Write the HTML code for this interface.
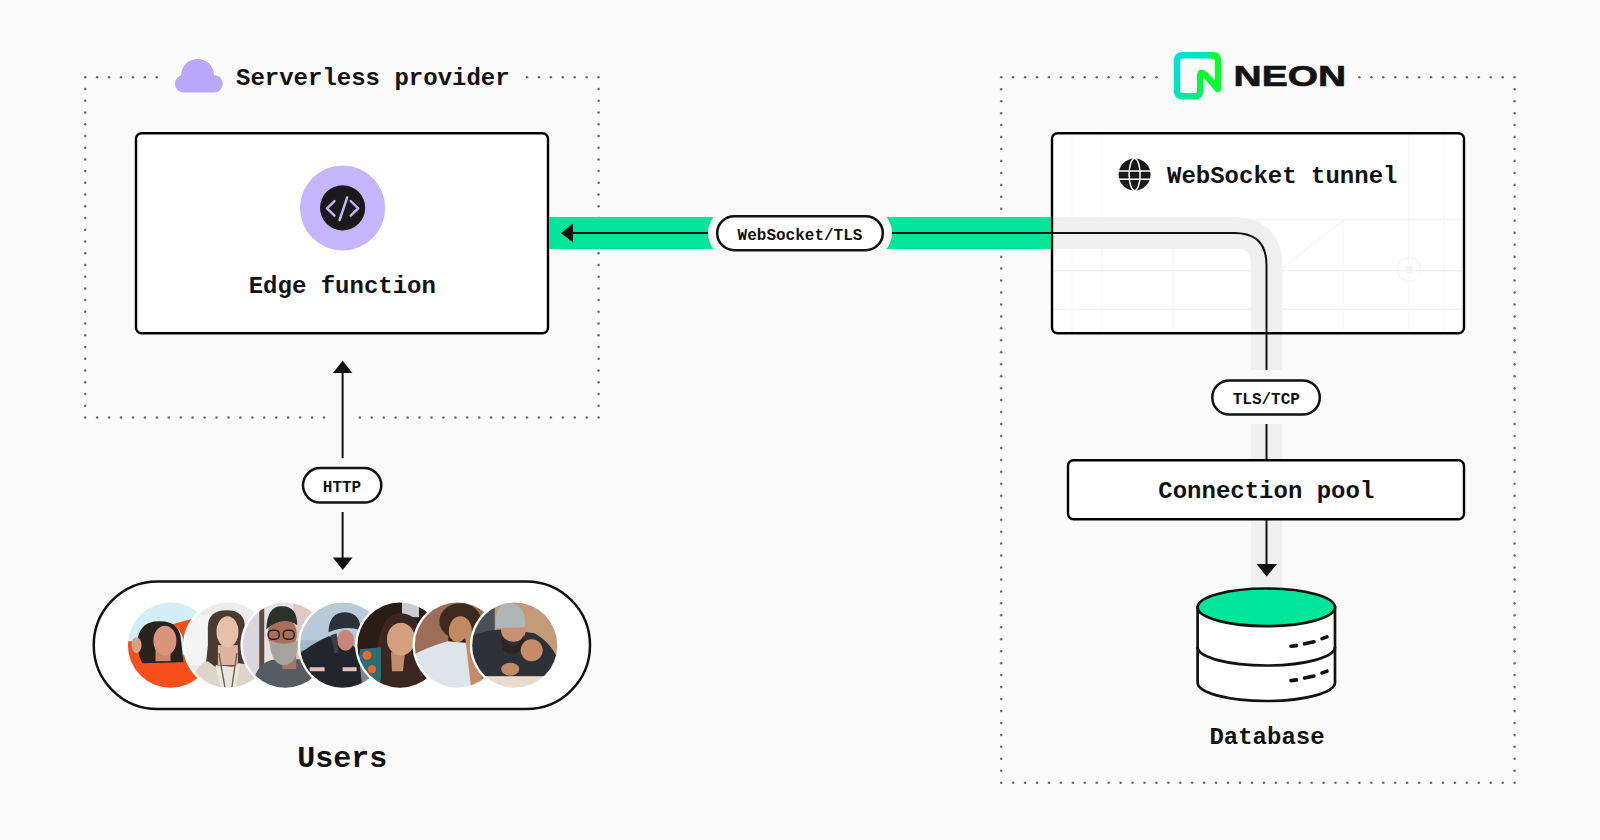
<!DOCTYPE html>
<html><head><meta charset="utf-8"><style>
html,body{margin:0;padding:0;background:#fafafa;overflow:hidden;}
svg{display:block;}
text{font-family:"Liberation Mono",monospace;font-weight:bold;fill:#121212;}
</style></head><body>
<svg width="1600" height="840" viewBox="0 0 1600 840">
<rect width="1600" height="840" fill="#fafafa"/>
<g fill="#6b6b6b"><circle cx="85.20" cy="77.30" r="1.25"/><circle cx="85.20" cy="417.40" r="1.25"/><circle cx="97.14" cy="77.30" r="1.25"/><circle cx="97.14" cy="417.40" r="1.25"/><circle cx="109.08" cy="77.30" r="1.25"/><circle cx="109.08" cy="417.40" r="1.25"/><circle cx="121.02" cy="77.30" r="1.25"/><circle cx="121.02" cy="417.40" r="1.25"/><circle cx="132.96" cy="77.30" r="1.25"/><circle cx="132.96" cy="417.40" r="1.25"/><circle cx="144.90" cy="77.30" r="1.25"/><circle cx="144.90" cy="417.40" r="1.25"/><circle cx="156.84" cy="77.30" r="1.25"/><circle cx="156.84" cy="417.40" r="1.25"/><circle cx="168.78" cy="417.40" r="1.25"/><circle cx="180.72" cy="417.40" r="1.25"/><circle cx="192.66" cy="417.40" r="1.25"/><circle cx="204.60" cy="417.40" r="1.25"/><circle cx="216.53" cy="417.40" r="1.25"/><circle cx="228.47" cy="417.40" r="1.25"/><circle cx="240.41" cy="417.40" r="1.25"/><circle cx="252.35" cy="417.40" r="1.25"/><circle cx="264.29" cy="417.40" r="1.25"/><circle cx="276.23" cy="417.40" r="1.25"/><circle cx="288.17" cy="417.40" r="1.25"/><circle cx="300.11" cy="417.40" r="1.25"/><circle cx="312.05" cy="417.40" r="1.25"/><circle cx="323.99" cy="417.40" r="1.25"/><circle cx="359.81" cy="417.40" r="1.25"/><circle cx="371.75" cy="417.40" r="1.25"/><circle cx="383.69" cy="417.40" r="1.25"/><circle cx="395.63" cy="417.40" r="1.25"/><circle cx="407.57" cy="417.40" r="1.25"/><circle cx="419.51" cy="417.40" r="1.25"/><circle cx="431.45" cy="417.40" r="1.25"/><circle cx="443.39" cy="417.40" r="1.25"/><circle cx="455.33" cy="417.40" r="1.25"/><circle cx="467.27" cy="417.40" r="1.25"/><circle cx="479.20" cy="417.40" r="1.25"/><circle cx="491.14" cy="417.40" r="1.25"/><circle cx="503.08" cy="417.40" r="1.25"/><circle cx="515.02" cy="417.40" r="1.25"/><circle cx="526.96" cy="77.30" r="1.25"/><circle cx="526.96" cy="417.40" r="1.25"/><circle cx="538.90" cy="77.30" r="1.25"/><circle cx="538.90" cy="417.40" r="1.25"/><circle cx="550.84" cy="77.30" r="1.25"/><circle cx="550.84" cy="417.40" r="1.25"/><circle cx="562.78" cy="77.30" r="1.25"/><circle cx="562.78" cy="417.40" r="1.25"/><circle cx="574.72" cy="77.30" r="1.25"/><circle cx="574.72" cy="417.40" r="1.25"/><circle cx="586.66" cy="77.30" r="1.25"/><circle cx="586.66" cy="417.40" r="1.25"/><circle cx="598.60" cy="77.30" r="1.25"/><circle cx="598.60" cy="417.40" r="1.25"/><circle cx="85.20" cy="89.03" r="1.25"/><circle cx="598.60" cy="89.03" r="1.25"/><circle cx="85.20" cy="100.76" r="1.25"/><circle cx="598.60" cy="100.76" r="1.25"/><circle cx="85.20" cy="112.48" r="1.25"/><circle cx="598.60" cy="112.48" r="1.25"/><circle cx="85.20" cy="124.21" r="1.25"/><circle cx="598.60" cy="124.21" r="1.25"/><circle cx="85.20" cy="135.94" r="1.25"/><circle cx="598.60" cy="135.94" r="1.25"/><circle cx="85.20" cy="147.67" r="1.25"/><circle cx="598.60" cy="147.67" r="1.25"/><circle cx="85.20" cy="159.39" r="1.25"/><circle cx="598.60" cy="159.39" r="1.25"/><circle cx="85.20" cy="171.12" r="1.25"/><circle cx="598.60" cy="171.12" r="1.25"/><circle cx="85.20" cy="182.85" r="1.25"/><circle cx="598.60" cy="182.85" r="1.25"/><circle cx="85.20" cy="194.58" r="1.25"/><circle cx="598.60" cy="194.58" r="1.25"/><circle cx="85.20" cy="206.30" r="1.25"/><circle cx="598.60" cy="206.30" r="1.25"/><circle cx="85.20" cy="218.03" r="1.25"/><circle cx="598.60" cy="218.03" r="1.25"/><circle cx="85.20" cy="229.76" r="1.25"/><circle cx="598.60" cy="229.76" r="1.25"/><circle cx="85.20" cy="241.49" r="1.25"/><circle cx="598.60" cy="241.49" r="1.25"/><circle cx="85.20" cy="253.21" r="1.25"/><circle cx="598.60" cy="253.21" r="1.25"/><circle cx="85.20" cy="264.94" r="1.25"/><circle cx="598.60" cy="264.94" r="1.25"/><circle cx="85.20" cy="276.67" r="1.25"/><circle cx="598.60" cy="276.67" r="1.25"/><circle cx="85.20" cy="288.40" r="1.25"/><circle cx="598.60" cy="288.40" r="1.25"/><circle cx="85.20" cy="300.12" r="1.25"/><circle cx="598.60" cy="300.12" r="1.25"/><circle cx="85.20" cy="311.85" r="1.25"/><circle cx="598.60" cy="311.85" r="1.25"/><circle cx="85.20" cy="323.58" r="1.25"/><circle cx="598.60" cy="323.58" r="1.25"/><circle cx="85.20" cy="335.31" r="1.25"/><circle cx="598.60" cy="335.31" r="1.25"/><circle cx="85.20" cy="347.03" r="1.25"/><circle cx="598.60" cy="347.03" r="1.25"/><circle cx="85.20" cy="358.76" r="1.25"/><circle cx="598.60" cy="358.76" r="1.25"/><circle cx="85.20" cy="370.49" r="1.25"/><circle cx="598.60" cy="370.49" r="1.25"/><circle cx="85.20" cy="382.22" r="1.25"/><circle cx="598.60" cy="382.22" r="1.25"/><circle cx="85.20" cy="393.94" r="1.25"/><circle cx="598.60" cy="393.94" r="1.25"/><circle cx="85.20" cy="405.67" r="1.25"/><circle cx="598.60" cy="405.67" r="1.25"/><circle cx="1001.20" cy="77.30" r="1.25"/><circle cx="1001.20" cy="782.70" r="1.25"/><circle cx="1013.14" cy="77.30" r="1.25"/><circle cx="1013.14" cy="782.70" r="1.25"/><circle cx="1025.08" cy="77.30" r="1.25"/><circle cx="1025.08" cy="782.70" r="1.25"/><circle cx="1037.02" cy="77.30" r="1.25"/><circle cx="1037.02" cy="782.70" r="1.25"/><circle cx="1048.96" cy="77.30" r="1.25"/><circle cx="1048.96" cy="782.70" r="1.25"/><circle cx="1060.90" cy="77.30" r="1.25"/><circle cx="1060.90" cy="782.70" r="1.25"/><circle cx="1072.84" cy="77.30" r="1.25"/><circle cx="1072.84" cy="782.70" r="1.25"/><circle cx="1084.78" cy="77.30" r="1.25"/><circle cx="1084.78" cy="782.70" r="1.25"/><circle cx="1096.72" cy="77.30" r="1.25"/><circle cx="1096.72" cy="782.70" r="1.25"/><circle cx="1108.66" cy="77.30" r="1.25"/><circle cx="1108.66" cy="782.70" r="1.25"/><circle cx="1120.60" cy="77.30" r="1.25"/><circle cx="1120.60" cy="782.70" r="1.25"/><circle cx="1132.53" cy="77.30" r="1.25"/><circle cx="1132.53" cy="782.70" r="1.25"/><circle cx="1144.47" cy="77.30" r="1.25"/><circle cx="1144.47" cy="782.70" r="1.25"/><circle cx="1156.41" cy="77.30" r="1.25"/><circle cx="1156.41" cy="782.70" r="1.25"/><circle cx="1168.35" cy="782.70" r="1.25"/><circle cx="1180.29" cy="782.70" r="1.25"/><circle cx="1192.23" cy="782.70" r="1.25"/><circle cx="1204.17" cy="782.70" r="1.25"/><circle cx="1216.11" cy="782.70" r="1.25"/><circle cx="1228.05" cy="782.70" r="1.25"/><circle cx="1239.99" cy="782.70" r="1.25"/><circle cx="1251.93" cy="782.70" r="1.25"/><circle cx="1263.87" cy="782.70" r="1.25"/><circle cx="1275.81" cy="782.70" r="1.25"/><circle cx="1287.75" cy="782.70" r="1.25"/><circle cx="1299.69" cy="782.70" r="1.25"/><circle cx="1311.63" cy="782.70" r="1.25"/><circle cx="1323.57" cy="782.70" r="1.25"/><circle cx="1335.51" cy="782.70" r="1.25"/><circle cx="1347.45" cy="782.70" r="1.25"/><circle cx="1359.39" cy="77.30" r="1.25"/><circle cx="1359.39" cy="782.70" r="1.25"/><circle cx="1371.33" cy="77.30" r="1.25"/><circle cx="1371.33" cy="782.70" r="1.25"/><circle cx="1383.27" cy="77.30" r="1.25"/><circle cx="1383.27" cy="782.70" r="1.25"/><circle cx="1395.20" cy="77.30" r="1.25"/><circle cx="1395.20" cy="782.70" r="1.25"/><circle cx="1407.14" cy="77.30" r="1.25"/><circle cx="1407.14" cy="782.70" r="1.25"/><circle cx="1419.08" cy="77.30" r="1.25"/><circle cx="1419.08" cy="782.70" r="1.25"/><circle cx="1431.02" cy="77.30" r="1.25"/><circle cx="1431.02" cy="782.70" r="1.25"/><circle cx="1442.96" cy="77.30" r="1.25"/><circle cx="1442.96" cy="782.70" r="1.25"/><circle cx="1454.90" cy="77.30" r="1.25"/><circle cx="1454.90" cy="782.70" r="1.25"/><circle cx="1466.84" cy="77.30" r="1.25"/><circle cx="1466.84" cy="782.70" r="1.25"/><circle cx="1478.78" cy="77.30" r="1.25"/><circle cx="1478.78" cy="782.70" r="1.25"/><circle cx="1490.72" cy="77.30" r="1.25"/><circle cx="1490.72" cy="782.70" r="1.25"/><circle cx="1502.66" cy="77.30" r="1.25"/><circle cx="1502.66" cy="782.70" r="1.25"/><circle cx="1514.60" cy="77.30" r="1.25"/><circle cx="1514.60" cy="782.70" r="1.25"/><circle cx="1001.20" cy="89.26" r="1.25"/><circle cx="1514.60" cy="89.26" r="1.25"/><circle cx="1001.20" cy="101.21" r="1.25"/><circle cx="1514.60" cy="101.21" r="1.25"/><circle cx="1001.20" cy="113.17" r="1.25"/><circle cx="1514.60" cy="113.17" r="1.25"/><circle cx="1001.20" cy="125.12" r="1.25"/><circle cx="1514.60" cy="125.12" r="1.25"/><circle cx="1001.20" cy="137.08" r="1.25"/><circle cx="1514.60" cy="137.08" r="1.25"/><circle cx="1001.20" cy="149.04" r="1.25"/><circle cx="1514.60" cy="149.04" r="1.25"/><circle cx="1001.20" cy="160.99" r="1.25"/><circle cx="1514.60" cy="160.99" r="1.25"/><circle cx="1001.20" cy="172.95" r="1.25"/><circle cx="1514.60" cy="172.95" r="1.25"/><circle cx="1001.20" cy="184.90" r="1.25"/><circle cx="1514.60" cy="184.90" r="1.25"/><circle cx="1001.20" cy="196.86" r="1.25"/><circle cx="1514.60" cy="196.86" r="1.25"/><circle cx="1001.20" cy="208.82" r="1.25"/><circle cx="1514.60" cy="208.82" r="1.25"/><circle cx="1001.20" cy="220.77" r="1.25"/><circle cx="1514.60" cy="220.77" r="1.25"/><circle cx="1001.20" cy="232.73" r="1.25"/><circle cx="1514.60" cy="232.73" r="1.25"/><circle cx="1001.20" cy="244.68" r="1.25"/><circle cx="1514.60" cy="244.68" r="1.25"/><circle cx="1001.20" cy="256.64" r="1.25"/><circle cx="1514.60" cy="256.64" r="1.25"/><circle cx="1001.20" cy="268.59" r="1.25"/><circle cx="1514.60" cy="268.59" r="1.25"/><circle cx="1001.20" cy="280.55" r="1.25"/><circle cx="1514.60" cy="280.55" r="1.25"/><circle cx="1001.20" cy="292.51" r="1.25"/><circle cx="1514.60" cy="292.51" r="1.25"/><circle cx="1001.20" cy="304.46" r="1.25"/><circle cx="1514.60" cy="304.46" r="1.25"/><circle cx="1001.20" cy="316.42" r="1.25"/><circle cx="1514.60" cy="316.42" r="1.25"/><circle cx="1001.20" cy="328.37" r="1.25"/><circle cx="1514.60" cy="328.37" r="1.25"/><circle cx="1001.20" cy="340.33" r="1.25"/><circle cx="1514.60" cy="340.33" r="1.25"/><circle cx="1001.20" cy="352.29" r="1.25"/><circle cx="1514.60" cy="352.29" r="1.25"/><circle cx="1001.20" cy="364.24" r="1.25"/><circle cx="1514.60" cy="364.24" r="1.25"/><circle cx="1001.20" cy="376.20" r="1.25"/><circle cx="1514.60" cy="376.20" r="1.25"/><circle cx="1001.20" cy="388.15" r="1.25"/><circle cx="1514.60" cy="388.15" r="1.25"/><circle cx="1001.20" cy="400.11" r="1.25"/><circle cx="1514.60" cy="400.11" r="1.25"/><circle cx="1001.20" cy="412.07" r="1.25"/><circle cx="1514.60" cy="412.07" r="1.25"/><circle cx="1001.20" cy="424.02" r="1.25"/><circle cx="1514.60" cy="424.02" r="1.25"/><circle cx="1001.20" cy="435.98" r="1.25"/><circle cx="1514.60" cy="435.98" r="1.25"/><circle cx="1001.20" cy="447.93" r="1.25"/><circle cx="1514.60" cy="447.93" r="1.25"/><circle cx="1001.20" cy="459.89" r="1.25"/><circle cx="1514.60" cy="459.89" r="1.25"/><circle cx="1001.20" cy="471.85" r="1.25"/><circle cx="1514.60" cy="471.85" r="1.25"/><circle cx="1001.20" cy="483.80" r="1.25"/><circle cx="1514.60" cy="483.80" r="1.25"/><circle cx="1001.20" cy="495.76" r="1.25"/><circle cx="1514.60" cy="495.76" r="1.25"/><circle cx="1001.20" cy="507.71" r="1.25"/><circle cx="1514.60" cy="507.71" r="1.25"/><circle cx="1001.20" cy="519.67" r="1.25"/><circle cx="1514.60" cy="519.67" r="1.25"/><circle cx="1001.20" cy="531.63" r="1.25"/><circle cx="1514.60" cy="531.63" r="1.25"/><circle cx="1001.20" cy="543.58" r="1.25"/><circle cx="1514.60" cy="543.58" r="1.25"/><circle cx="1001.20" cy="555.54" r="1.25"/><circle cx="1514.60" cy="555.54" r="1.25"/><circle cx="1001.20" cy="567.49" r="1.25"/><circle cx="1514.60" cy="567.49" r="1.25"/><circle cx="1001.20" cy="579.45" r="1.25"/><circle cx="1514.60" cy="579.45" r="1.25"/><circle cx="1001.20" cy="591.41" r="1.25"/><circle cx="1514.60" cy="591.41" r="1.25"/><circle cx="1001.20" cy="603.36" r="1.25"/><circle cx="1514.60" cy="603.36" r="1.25"/><circle cx="1001.20" cy="615.32" r="1.25"/><circle cx="1514.60" cy="615.32" r="1.25"/><circle cx="1001.20" cy="627.27" r="1.25"/><circle cx="1514.60" cy="627.27" r="1.25"/><circle cx="1001.20" cy="639.23" r="1.25"/><circle cx="1514.60" cy="639.23" r="1.25"/><circle cx="1001.20" cy="651.18" r="1.25"/><circle cx="1514.60" cy="651.18" r="1.25"/><circle cx="1001.20" cy="663.14" r="1.25"/><circle cx="1514.60" cy="663.14" r="1.25"/><circle cx="1001.20" cy="675.10" r="1.25"/><circle cx="1514.60" cy="675.10" r="1.25"/><circle cx="1001.20" cy="687.05" r="1.25"/><circle cx="1514.60" cy="687.05" r="1.25"/><circle cx="1001.20" cy="699.01" r="1.25"/><circle cx="1514.60" cy="699.01" r="1.25"/><circle cx="1001.20" cy="710.96" r="1.25"/><circle cx="1514.60" cy="710.96" r="1.25"/><circle cx="1001.20" cy="722.92" r="1.25"/><circle cx="1514.60" cy="722.92" r="1.25"/><circle cx="1001.20" cy="734.88" r="1.25"/><circle cx="1514.60" cy="734.88" r="1.25"/><circle cx="1001.20" cy="746.83" r="1.25"/><circle cx="1514.60" cy="746.83" r="1.25"/><circle cx="1001.20" cy="758.79" r="1.25"/><circle cx="1514.60" cy="758.79" r="1.25"/><circle cx="1001.20" cy="770.74" r="1.25"/><circle cx="1514.60" cy="770.74" r="1.25"/></g>

<!-- cloud -->
<g fill="#b9a8fe">
<circle cx="197.5" cy="75.5" r="16.5"/>
<rect x="174.8" y="75" width="48" height="17.5" rx="8.75"/>
</g>
<text x="236" y="85.3" font-size="24">Serverless provider</text>

<!-- NEON logo -->
<defs>
<filter id="soft" x="-10%" y="-10%" width="120%" height="120%"><feGaussianBlur stdDeviation="0.7"/></filter>
<linearGradient id="ng" x1="1175" y1="55" x2="1215" y2="95" gradientUnits="userSpaceOnUse">
<stop offset="0" stop-color="#00e2d8"/><stop offset="0.5" stop-color="#00e6b4"/><stop offset="0.85" stop-color="#00ef70"/><stop offset="1" stop-color="#00f558"/>
</linearGradient>
<linearGradient id="ng2" x1="1200" y1="90" x2="1218" y2="55" gradientUnits="userSpaceOnUse">
<stop offset="0" stop-color="#00f558"/><stop offset="0.4" stop-color="#0aff2a"/><stop offset="1" stop-color="#0aff2a"/>
</linearGradient>
</defs>
<path d="M1213 55.3 L1182.7 55.3 Q1177 55.3 1177 61 L1177 90.5 Q1177 96.3 1182.7 96.3 L1194.5 96.3 Q1200.2 96.3 1200.2 90.5" fill="none" stroke="url(#ng)" stroke-width="6.4" stroke-linecap="round" stroke-linejoin="round"/>
<path d="M1200.2 90.5 L1200.2 76 Q1200.2 70 1205 74.5 L1218 89 L1218 61 Q1218 55.3 1213 55.3" fill="none" stroke="url(#ng2)" stroke-width="6.4" stroke-linecap="round" stroke-linejoin="round"/>
<text x="1233.6" y="86.2" font-size="29.5" style="font-family:'Liberation Sans',sans-serif;font-weight:bold" textLength="112.5" lengthAdjust="spacingAndGlyphs" stroke="#1a1a1a" stroke-width="0.7">NEON</text>

<!-- left box -->
<rect x="136" y="133.2" width="412" height="200" rx="5.5" fill="#fff" stroke="#000" stroke-width="2.4"/>
<circle cx="342.6" cy="208" r="42.6" fill="#c4b5fd"/>
<circle cx="342.6" cy="207.8" r="22.6" fill="#1a1a1a"/>
<g stroke="#c4b5fd" stroke-width="2.4" stroke-linecap="round" fill="none" stroke-linejoin="round">
<path d="M334.5 201 L327 208.3 L334.5 215.6"/>
<path d="M350.7 201 L358.2 208.3 L350.7 215.6"/>
<path d="M347.2 197.5 L339.6 220"/>
</g>
<text x="342.3" y="293.4" font-size="24" text-anchor="middle">Edge function</text>

<!-- right websocket box -->
<rect x="1052" y="133" width="412" height="200" rx="5.5" fill="#fff"/>
<g stroke="#f8f8f8" stroke-width="1.5" fill="none"><line x1="1072" y1="134" x2="1072" y2="332"/><line x1="1101.5" y1="134" x2="1101.5" y2="332"/><line x1="1172.7" y1="249" x2="1172.7" y2="332"/><line x1="1343.4" y1="219.6" x2="1343.4" y2="332"/><line x1="1408.5" y1="134" x2="1408.5" y2="332"/><line x1="1444.2" y1="134" x2="1444.2" y2="332"/></g><g stroke="#f3f3f3" stroke-width="1.6" fill="none"><line x1="1053" y1="219.7" x2="1463" y2="219.7"/><line x1="1053" y1="270.8" x2="1463" y2="270.8"/><line x1="1053" y1="309.2" x2="1463" y2="309.2"/></g><g stroke="#f5f5f5" stroke-width="1.3" fill="none"><line x1="1283" y1="267.5" x2="1343" y2="220.4"/><circle cx="1409" cy="269.4" r="12"/></g><circle cx="1409" cy="269.4" r="4" fill="#f3f3f3"/>
<!-- tunnel gray path -->
<path d="M1050 233 L1234.5 233 Q1266.5 233 1266.5 265 L1266.5 588" fill="none" stroke="#f0f0f0" stroke-width="31.5"/>
<rect x="1052" y="133.2" width="412" height="200" rx="5.5" fill="none" stroke="#000" stroke-width="2.4"/>
<circle cx="1134.6" cy="174.5" r="16" fill="#1a1a1a"/>
<g stroke="#fff" stroke-width="1.5" fill="none">
<line x1="1118" y1="171" x2="1151" y2="171"/>
<line x1="1118" y1="179.2" x2="1151" y2="179.2"/>
<ellipse cx="1134.6" cy="174.5" rx="5.5" ry="16"/>
</g>
<text x="1167" y="182.5" font-size="24">WebSocket tunnel</text>


<!-- green band -->
<rect x="549" y="217" width="502" height="32" fill="#00e599"/>
<!-- line -->
<path d="M570 233 L1234.5 233 Q1266.5 233 1266.5 265 L1266.5 566" fill="none" stroke="#121212" stroke-width="2"/>
<path d="M561 233 L573 223.5 L573 242.5Z" fill="#121212"/>

<!-- websocket pill -->
<rect x="708" y="207" width="184" height="52" rx="26" fill="#fafafa"/>
<rect x="717.2" y="216.2" width="165.6" height="34" rx="17" fill="#fff" stroke="#121212" stroke-width="2.5"/>
<text x="800" y="239.8" font-size="16" text-anchor="middle">WebSocket/TLS</text>

<!-- TLS/TCP pill -->
<rect x="1203" y="370" width="126" height="54" rx="27" fill="#fafafa"/>
<rect x="1212.3" y="380.4" width="107.5" height="34.2" rx="17.1" fill="#fff" stroke="#121212" stroke-width="2.5"/>
<text x="1266.3" y="403.8" font-size="16" text-anchor="middle">TLS/TCP</text>

<!-- connection pool -->
<rect x="1068" y="460.2" width="396" height="59" rx="5.5" fill="#fff" stroke="#000" stroke-width="2.4"/>
<text x="1266.3" y="498" font-size="24" text-anchor="middle">Connection pool</text>
<path d="M1256.5 564 L1277 564 L1266.7 576.5Z" fill="#121212"/>

<!-- database -->
<g stroke="#121212" stroke-width="2.7" fill="#fff">
<path d="M1197.6 607.3 L1197.6 682.5 A68.7 18.5 0 0 0 1335 682.5 L1335 607.3Z"/>
<path d="M1197.6 647 A68.7 18.5 0 0 0 1335 647" fill="none"/>
<ellipse cx="1266.3" cy="607.3" rx="68.7" ry="18.8" fill="#00e599"/>
</g>
<g stroke="#121212" stroke-width="3.6" stroke-linecap="round" fill="none">
<path d="M1291 646.3 L1296.5 645.6 M1304.5 643.8 L1314 641.8 M1322 638.6 L1327 636.9"/>
<path d="M1291 680.6 L1296.5 679.9 M1304.5 678.1 L1314 676.1 M1322 672.9 L1327 671.2"/>
</g>
<text x="1267" y="744" font-size="24" text-anchor="middle">Database</text>

<!-- HTTP arrows -->
<line x1="342.6" y1="372" x2="342.6" y2="458.2" stroke="#121212" stroke-width="2"/>
<line x1="342.6" y1="512" x2="342.6" y2="559" stroke="#121212" stroke-width="2"/>
<path d="M332.9 373 L352.4 373 L342.6 360.7Z" fill="#121212"/>
<path d="M332.9 557.5 L352.5 557.5 L342.7 570Z" fill="#121212"/>
<rect x="303" y="468.1" width="78.3" height="34.5" rx="17.25" fill="#fff" stroke="#121212" stroke-width="2.5"/>
<text x="342" y="492.1" font-size="16" text-anchor="middle">HTTP</text>

<!-- users -->
<rect x="93.75" y="581.45" width="496.25" height="127.5" rx="63.75" fill="#fff" stroke="#111" stroke-width="2.5"/>
<clipPath id="pc0"><circle cx="0" cy="0" r="42.6"/></clipPath><g clip-path="url(#pc0)" transform="translate(170.50,645.2)"><g filter="url(#soft)"><rect x="-45" y="-45" width="90" height="90" fill="#d4eef6"/><path d="M-45 -4 L-29 -4 L-27 14 L-14 16 L2 15 L12 12 L17 -1 L13 -3 Q12 -15 2 -21 L20 -26 Q32 -28 45 -30 L45 45 L-45 45Z" fill="#f5501c"/><path d="M-33 -6 Q-30 -24 -12 -24 Q6 -25 10 -10 L13 17 L-28 18 Q-34 8 -33 -6Z" fill="#2a201e"/><ellipse cx="-34" cy="0" rx="5" ry="8" fill="#d4a08a"/><rect x="-15" y="3" width="15" height="13" fill="#c98670"/><ellipse cx="-5.6" cy="-4.5" rx="11.5" ry="15" fill="#d8957c"/></g></g><clipPath id="pc1"><circle cx="0" cy="0" r="42.6"/></clipPath><circle cx="227.87" cy="645.2" r="44.800000000000004" fill="#fff"/><g clip-path="url(#pc1)" transform="translate(227.87,645.2)"><g filter="url(#soft)"><rect x="-45" y="-45" width="90" height="90" fill="#ebebeb"/><rect x="-42" y="-30" width="26" height="50" fill="#f4f4f4"/><path d="M-20 -18 Q-20 -35 -1 -35 Q17 -35 17 -18 L17 20 L10 22 L-12 20 L-16 36 L-24 38 Q-22 20 -20 0Z" fill="#4a3a30"/><rect x="-10" y="0" width="20" height="20" fill="#dcb69c"/><ellipse cx="-0.4" cy="-13.5" rx="11" ry="15.5" fill="#e6c0a8"/><path d="M-36 45 Q-34 18 -20 16 L-12 22 L-6 45Z M10 18 Q30 18 38 45 L6 45Z" fill="#ddd5c8"/><path d="M-12 20 L-5 45 L8 45 L12 18 Q0 26 -12 20Z" fill="#e9e4dc"/><path d="M-9 8 L-3 42 M9 8 L4 42" stroke="#6a5a50" stroke-width="1.3" fill="none"/></g></g><clipPath id="pc2"><circle cx="0" cy="0" r="42.6"/></clipPath><circle cx="285.24" cy="645.2" r="44.800000000000004" fill="#fff"/><g clip-path="url(#pc2)" transform="translate(285.24,645.2)"><g filter="url(#soft)"><rect x="-45" y="-45" width="90" height="90" fill="#e6e1e2"/><rect x="-45" y="-45" width="19" height="90" fill="#dad6de"/><rect x="-26" y="-45" width="5" height="70" fill="#5e4a40"/><rect x="8" y="-45" width="37" height="65" fill="#dccbc4"/><path d="M-34 45 Q-30 16 -10 14 L15 14 Q36 16 42 45Z" fill="#575c5e"/><rect x="-3" y="10" width="14" height="14" fill="#a47666"/><ellipse cx="-3" cy="-11" rx="14.5" ry="18" fill="#a8705c"/><path d="M-19 -16 Q-18 -40 -3 -39 Q12 -39 12 -20 Q-2 -30 -19 -16Z" fill="#2a302c"/><path d="M-16 -5 Q-14 20 -1 20 Q13 18 13 -5 Q-1 2 -16 -5Z" fill="#a6a29c"/><g fill="none" stroke="#2a2220" stroke-width="1.5"><rect x="-17" y="-15" width="11" height="9" rx="4"/><rect x="-2" y="-15" width="11" height="9" rx="4"/></g></g></g><clipPath id="pc3"><circle cx="0" cy="0" r="42.6"/></clipPath><circle cx="342.61" cy="645.2" r="44.800000000000004" fill="#fff"/><g clip-path="url(#pc3)" transform="translate(342.61,645.2)"><g filter="url(#soft)"><rect x="-45" y="-45" width="90" height="90" fill="#b8cad7"/><rect x="-45" y="-5" width="90" height="10" fill="#a3b8c6"/><rect x="-45" y="5" width="90" height="40" fill="#7f878c"/><path d="M-45 45 L-45 10 Q-30 -2 -14 -9 Q8 -8 16 8 L20 45Z" fill="#22252b"/><path d="M-33 22 L-18 22 L-18 26 L-33 26Z M0 22 L14 22 L14 26 L0 26Z" fill="#e0c2c2"/><ellipse cx="3" cy="-5" rx="8.5" ry="10.5" fill="#c8867a"/><path d="M-14 -13 Q-14 -33 3 -33 Q18 -32 18 -15 Q4 -20 -14 -13Z" fill="#2c3038"/><path d="M-12 -10 L-8 8 L-4 8 L-6 -12Z" fill="#3a3e46"/></g></g><clipPath id="pc4"><circle cx="0" cy="0" r="42.6"/></clipPath><circle cx="399.98" cy="645.2" r="44.800000000000004" fill="#fff"/><g clip-path="url(#pc4)" transform="translate(399.98,645.2)"><g filter="url(#soft)"><rect x="-45" y="-45" width="90" height="90" fill="#2a1a16"/><rect x="2" y="-45" width="17" height="17" fill="#c8ccd0"/><path d="M-25 41 Q-26 -32 0 -32 Q21 -32 21 -5 L24 41Z" fill="#3a2520"/><path d="M-9 7 L5 7 L3 26 L-8 26Z" fill="#c48c6e"/><ellipse cx="1" cy="-6" rx="14" ry="16.5" fill="#d4a080"/><path d="M-45 45 L-40 4 L-19 2 L-19 33 L-22 45Z" fill="#2e6d75"/><circle cx="-33" cy="10" r="4.5" fill="#e86a2e"/><circle cx="-28" cy="24" r="4" fill="#e86a2e"/></g></g><clipPath id="pc5"><circle cx="0" cy="0" r="42.6"/></clipPath><circle cx="457.35" cy="645.2" r="44.800000000000004" fill="#fff"/><g clip-path="url(#pc5)" transform="translate(457.35,645.2)"><g filter="url(#soft)"><rect x="-45" y="-45" width="90" height="90" fill="#9c6e5a"/><ellipse cx="3" cy="-24" rx="21" ry="18" fill="#3d2a1e"/><ellipse cx="3" cy="-14" rx="11.5" ry="15" fill="#c08a64"/><path d="M-9 -10 Q0 4 10 -10 L10 0 Q1 6 -9 0Z" fill="#2e2018"/><path d="M-45 45 L-45 10 Q-30 2 -10 -4 L14 -2 L14 45Z" fill="#dde4ea"/><path d="M7 -13 Q18 -10 20 10 L26 42 L14 45 L10 10Z" fill="#c48c66"/></g></g><clipPath id="pc6"><circle cx="0" cy="0" r="42.6"/></clipPath><circle cx="514.72" cy="645.2" r="44.800000000000004" fill="#fff"/><g clip-path="url(#pc6)" transform="translate(514.72,645.2)"><g filter="url(#soft)"><rect x="-45" y="-45" width="90" height="90" fill="#c49a7c"/><rect x="-45" y="-38" width="25" height="35" fill="#4a4f55"/><path d="M-45 45 L-42 -10 Q-25 -16 -10 -16 L20 -12 Q40 0 45 20 L45 34 L-45 34Z" fill="#2d3338"/><ellipse cx="-1.3" cy="-14.7" rx="12.3" ry="11.3" fill="#c89272"/><path d="M-19 -17 Q-20 -44 -4 -42 Q12 -40 10 -18Z" fill="#b0b5b8"/><path d="M-13.6 -10 Q-2 12 9 -10 L9 2 Q-2 14 -12 4Z" fill="#2e2420"/><ellipse cx="17" cy="5" rx="11" ry="11" fill="#c68c68"/><ellipse cx="-4.5" cy="24" rx="9" ry="6.5" fill="#c08a68"/><rect x="-45" y="31" width="90" height="14" fill="#e8dcd0"/></g></g>
<text x="342.3" y="766.5" font-size="30" text-anchor="middle">Users</text>
</svg>
</body></html>
